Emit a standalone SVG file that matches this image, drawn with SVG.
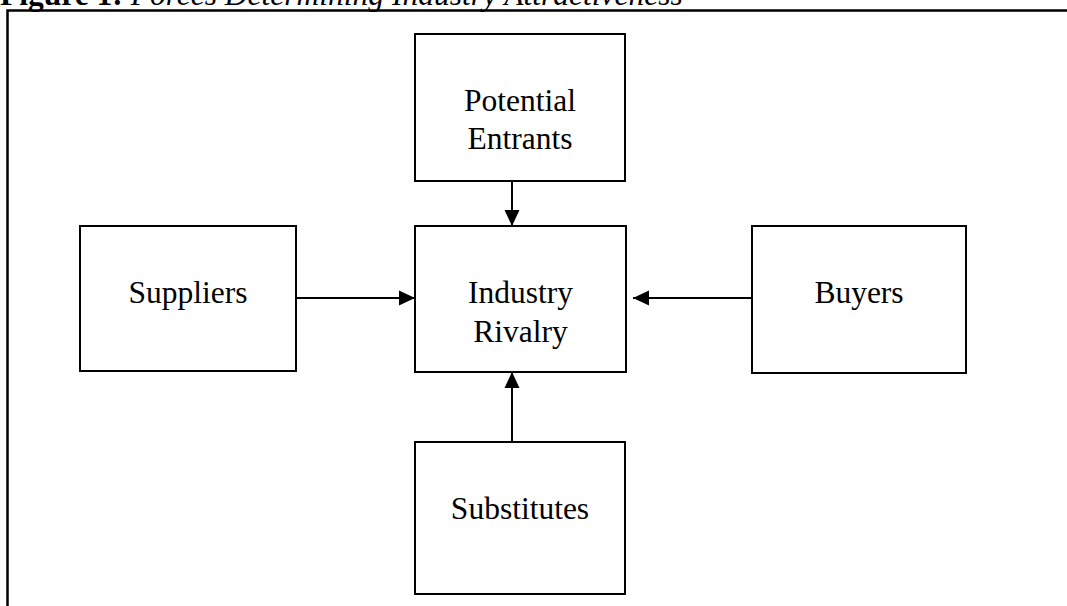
<svg xmlns="http://www.w3.org/2000/svg" width="1067" height="606" viewBox="0 0 1067 606">
<style>
.box{fill:#fff;stroke:#000;stroke-width:2}
.lbl{font-family:"Liberation Serif","Times New Roman",serif;font-size:31.5px;fill:#000;text-anchor:middle}
.conn{stroke:#000;stroke-width:2;fill:none}
.title{font-family:"Liberation Serif","Times New Roman",serif;font-size:31.5px;fill:#000}
</style>
<defs>
<marker id="ah" markerUnits="userSpaceOnUse" markerWidth="16" markerHeight="16" viewBox="0 0 16 16" refX="16" refY="8" orient="auto">
<path d="M0,0.5 L16,8 L0,15.5 z" fill="#000"/>
</marker>
</defs>
<rect width="1067" height="606" fill="#fff"/>
<text class="title" x="0" y="5"><tspan font-weight="bold">Figure 1:</tspan><tspan font-style="italic"> Forces Determining Industry Attractiveness</tspan></text>
<rect x="7.5" y="10.5" width="1100" height="700" fill="none" stroke="#000" stroke-width="2.5"/>
<g id="potential-entrants">
<rect class="box" x="415" y="34" width="210" height="147"/>
<text class="lbl" x="520" y="111">Potential</text>
<text class="lbl" x="520" y="149">Entrants</text>
</g>
<g id="industry-rivalry">
<rect class="box" x="415" y="226" width="211" height="146"/>
<text class="lbl" x="520.5" y="303">Industry</text>
<text class="lbl" x="520.5" y="342">Rivalry</text>
</g>
<g id="suppliers">
<rect class="box" x="80" y="226" width="216" height="145"/>
<text class="lbl" x="188" y="303">Suppliers</text>
</g>
<g id="buyers">
<rect class="box" x="752" y="226" width="214" height="147"/>
<text class="lbl" x="859" y="303">Buyers</text>
</g>
<g id="substitutes">
<rect class="box" x="415" y="442" width="210" height="152"/>
<text class="lbl" x="520" y="519">Substitutes</text>
</g>
<g id="connectors">
<line class="conn" x1="512" y1="181" x2="512" y2="226" marker-end="url(#ah)"/>
<line class="conn" x1="296" y1="298" x2="415" y2="298" marker-end="url(#ah)"/>
<line class="conn" x1="752" y1="298" x2="633" y2="298" marker-end="url(#ah)"/>
<line class="conn" x1="512" y1="442" x2="512" y2="372" marker-end="url(#ah)"/>
</g>
</svg>
